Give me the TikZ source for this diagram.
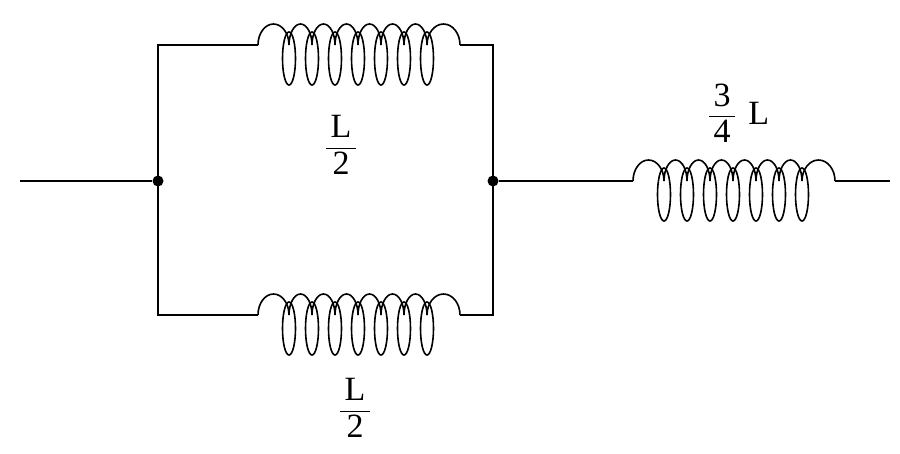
\documentclass[tikz,border=0pt]{standalone}
\usepackage{amsmath}
\usepackage{fontspec}
\setmainfont{Liberation Serif}
\usepackage{tikz}
\usetikzlibrary{calc,positioning}

\tikzset{
  wire/.style={line width=1.6pt},
  dot/.style={circle, fill=black, inner sep=0pt, minimum size=11pt},
  lbl/.style={font=\fontsize{34}{38}\selectfont, inner sep=0pt},
  coil/.pic={
    \draw[wire] (0,0) arc[start angle=180, end angle=360, x radius=15.5, y radius=21]
      \foreach \k in {0,...,5} { arc[start angle=180, end angle=360, x radius=11.5, y radius=21] }
      arc[start angle=180, end angle=360, x radius=16.5, y radius=21];
    \foreach \k in {0,...,6}
      \draw[wire] (31+23*\k,13.5) ellipse[x radius=6.5, y radius=26.5];
  }
}

\begin{document}
\begin{tikzpicture}[x=1pt, y=-1pt]
  \useasboundingbox (0,0) rectangle (900,453);
  % junctions and ends
  \node[dot] (jl) at (158,181) {};
  \node[dot] (jr) at (493,181) {};
  \coordinate (in) at (20,181);
  \coordinate (out) at (890,181);
  \coordinate (tl) at (158,45);  \coordinate (tr) at (493,45);
  \coordinate (bl) at (158,315); \coordinate (br) at (493,315);
  \coordinate (ta) at (258,45);  \coordinate (tb) at (460,45);
  \coordinate (ba) at (258,315); \coordinate (bb) at (460,315);
  \coordinate (ra) at (633,181); \coordinate (rb) at (835,181);
  % coils
  \pic at (ta) {coil};
  \pic at (ba) {coil};
  \pic at (ra) {coil};
  % wires
  \draw[wire] (in) -- (jl);
  \draw[wire] (ta) -- (tl) -- (bl) -- (ba);
  \draw[wire] (tb) -- (tr) -- (br) -- (bb);
  \draw[wire] (jr) -- (ra);
  \draw[wire] (rb) -- (out);
  % labels
  \node[lbl] (lt) at (341,145) {$\dfrac{\,\text{L}\,}{\text{2}}$};
  \node[lbl] (lb) at (355,408) {$\dfrac{\,\text{L}\,}{\text{2}}$};
  \node[lbl] (lr) at (722,113) {$\dfrac{\,\text{3}\,}{\text{4}}$};
  \node[lbl, right=12pt of lr] (lrL) {L};
\end{tikzpicture}
\end{document}
